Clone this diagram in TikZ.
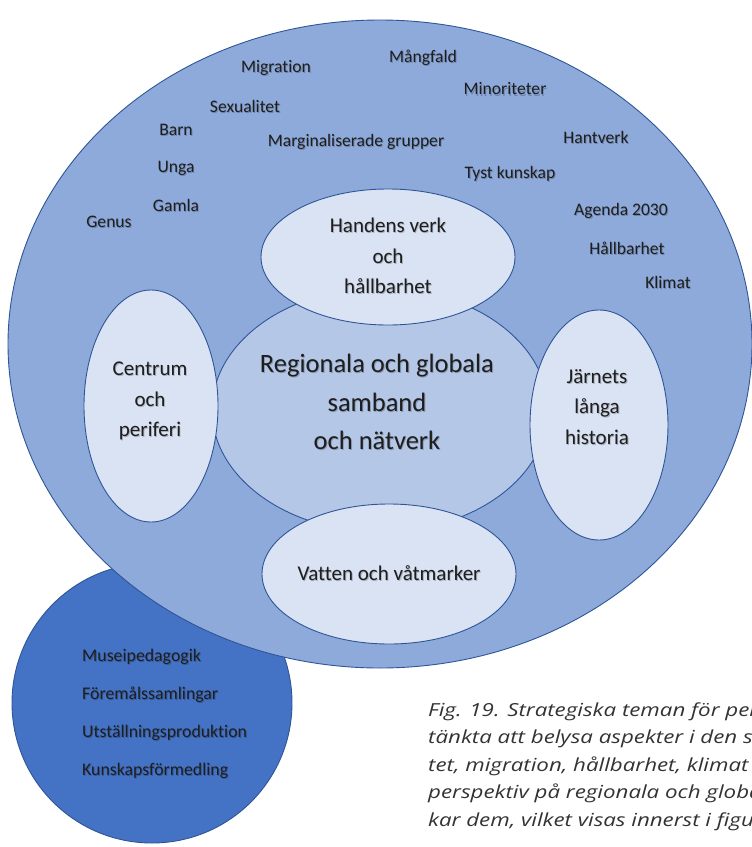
\documentclass[tikz,border=0pt]{standalone}
\usepackage{fontspec}
\setmainfont{Carlito}[Ligatures={NoCommon}]
\newfontfamily\capfont{Open Sans}[FakeStretch=1.24]
\definecolor{bigfill}{HTML}{8EAADB}
\definecolor{edge}{HTML}{2F5597}
\definecolor{circfill}{HTML}{4472C4}
\definecolor{midfill}{HTML}{B4C7E7}
\definecolor{smallfill}{HTML}{DAE3F3}
\definecolor{txt}{HTML}{1E1E1E}
\definecolor{captxt}{HTML}{333333}
\tikzset{
  shapeline/.style={draw=edge, line width=0.9pt},
  taglbl/.style={text=txt, font=\fontsize{17.6}{17.6}\selectfont, inner sep=0pt},
  innerlbl/.style={text=txt, font=\fontsize{21}{30.5}\selectfont, align=center, inner sep=0pt},
  corelbl/.style={text=txt, font=\fontsize{26.5}{38.5}\selectfont, align=center, inner sep=0pt},
  lstlbl/.style={text=txt, font=\fontsize{17.8}{17.8}\selectfont, anchor=west, inner sep=0pt},
  captext/.style={text=captxt, font=\capfont\itshape\fontsize{18}{18}\selectfont, anchor=base west, inner sep=0pt},
  shadowed/.style={text=black, text opacity=0.22},
}
\newcommand\lab[4]{%
  \node[#1, shadowed] (#2-s) at ($(#3)+(0.9,1.1)$) {#4};
  \node[#1] (#2) at (#3) {#4};}
\usetikzlibrary{calc}
\begin{document}
\begin{tikzpicture}[x=1pt,y=-1pt]
\useasboundingbox (0,0) rectangle (752,847);
\clip (0,0) rectangle (752,847);
% lower circle
\filldraw[shapeline, fill=circfill] (152,703) circle (140);
% big ellipse
\filldraw[shapeline, fill=bigfill] (380,344) ellipse [x radius=372, y radius=324];
% central ellipse
\filldraw[shapeline, fill=midfill] (380,410) ellipse [x radius=168, y radius=122];
% four ellipses
\filldraw[shapeline, fill=smallfill] (388,257) ellipse [x radius=127, y radius=68];
\filldraw[shapeline, fill=smallfill] (151,406) ellipse [x radius=67, y radius=116];
\filldraw[shapeline, fill=smallfill] (599,425) ellipse [x radius=69, y radius=115];
\filldraw[shapeline, fill=smallfill] (389,574) ellipse [x radius=127, y radius=70];
% inner labels
\lab{innerlbl}{hand}{388,256}{Handens verk\\och\\hållbarhet}
\lab{innerlbl}{cent}{150,401}{Centrum\\och\\periferi}
\lab{innerlbl}{jarn}{597,407}{Järnets\\långa\\historia}
\lab{innerlbl}{vatt}{389,573}{Vatten och våtmarker}
\lab{corelbl}{reg}{377,402}{Regionala och globala\\samband\\och nätverk}
% theme labels
\lab{taglbl}{migr}{276,68}{Migration}
\lab{taglbl}{mang}{423,58}{Mångfald}
\lab{taglbl}{mino}{505,89}{Minoriteter}
\lab{taglbl}{sexu}{245,106}{Sexualitet}
\lab{taglbl}{barn}{176,130}{Barn}
\lab{taglbl}{marg}{356,142}{Marginaliserade grupper}
\lab{taglbl}{hant}{596,137}{Hantverk}
\lab{taglbl}{unga}{176,168}{Unga}
\lab{taglbl}{tyst}{510,174}{Tyst kunskap}
\lab{taglbl}{gaml}{176,205}{Gamla}
\lab{taglbl}{genu}{109,222}{Genus}
\lab{taglbl}{agen}{621,211}{Agenda 2030}
\lab{taglbl}{hall}{627,248}{Hållbarhet}
\lab{taglbl}{klim}{668,282}{Klimat}
% museum list
\lab{lstlbl}{muse}{82,657}{Museipedagogik}
\lab{lstlbl}{fore}{82,695}{Föremålssamlingar}
\lab{lstlbl}{utst}{82,733}{Utställningsproduktion}
\lab{lstlbl}{kuns}{82,771}{Kunskapsförmedling}
% caption (cut at the page edge, as in the source)
\node[captext] (c1) at (428,716) {Fig. 19. Strategiska teman för per};
\node[captext] (c2) at (428,743.5) {tänkta att belysa aspekter i den s};
\node[captext] (c3) at (428,771) {tet, migration, hållbarhet, klimat o};
\node[captext] (c4) at (428,798.5) {perspektiv på regionala och globa};
\node[captext] (c5) at (428,826) {kar dem, vilket visas innerst i figu};
\end{tikzpicture}
\end{document}
